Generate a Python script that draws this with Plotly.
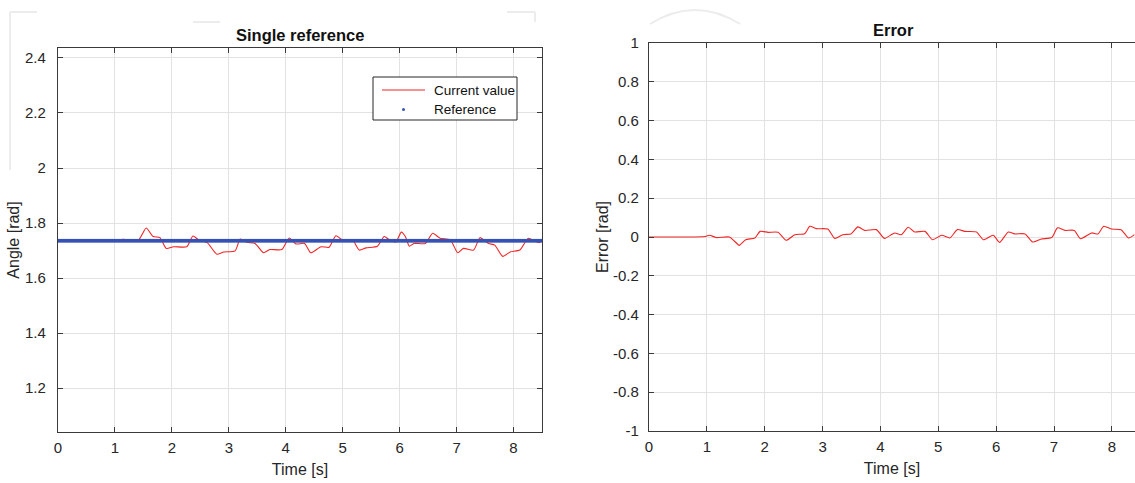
import numpy as np
import plotly.graph_objects as go

# ---- data ----
t_cur = [0.0, 0.5, 1.0, 1.14, 1.41, 1.55, 1.67, 1.79, 1.90, 2.03, 2.26, 2.37, 2.47, 2.62, 2.79, 2.91,
         3.11, 3.20, 3.32, 3.46, 3.61, 3.72, 3.93, 4.06, 4.18, 4.33, 4.44, 4.62, 4.76, 4.88, 5.03,
         5.17, 5.29, 5.41, 5.61, 5.73, 5.81, 5.93, 6.03, 6.10, 6.17, 6.25, 6.45, 6.58, 6.71, 6.89,
         7.02, 7.12, 7.30, 7.41, 7.56, 7.67, 7.81, 7.94, 8.11, 8.26, 8.38, 8.47]
v_cur = [1.736, 1.736, 1.736, 1.741, 1.738, 1.782, 1.751, 1.747, 1.708, 1.714, 1.714, 1.753, 1.739,
         1.729, 1.687, 1.695, 1.699, 1.742, 1.730, 1.726, 1.692, 1.704, 1.704, 1.746, 1.724, 1.726,
         1.692, 1.714, 1.712, 1.754, 1.733, 1.739, 1.702, 1.710, 1.716, 1.751, 1.741, 1.731, 1.767,
         1.751, 1.716, 1.726, 1.726, 1.763, 1.745, 1.739, 1.692, 1.708, 1.702, 1.747, 1.726, 1.720,
         1.679, 1.695, 1.702, 1.745, 1.733, 1.729]

ref_value = 1.736
t_ref = np.linspace(0, 8.5, 243)

t_err = [0.0, 0.5, 0.97, 1.05, 1.16, 1.39, 1.48, 1.56, 1.67, 1.83, 1.92, 2.06, 2.23, 2.37, 2.52, 2.69,
         2.78, 2.89, 3.09, 3.21, 3.35, 3.49, 3.61, 3.73, 3.93, 4.07, 4.20, 4.25, 4.36, 4.48, 4.59,
         4.77, 4.90, 5.06, 5.20, 5.33, 5.46, 5.66, 5.78, 5.95, 6.06, 6.21, 6.32, 6.50, 6.63, 6.78,
         6.96, 7.06, 7.19, 7.35, 7.46, 7.65, 7.76, 7.86, 7.99, 8.16, 8.29, 8.39]
v_err = [0.0, 0.0, 0.003, 0.009, -0.003, 0.0, -0.022, -0.043, -0.014, -0.005, 0.029, 0.024, 0.024,
         -0.017, 0.012, 0.017, 0.055, 0.043, 0.041, -0.007, 0.012, 0.016, 0.052, 0.034, 0.038, -0.007,
         0.014, 0.021, 0.012, 0.050, 0.026, 0.029, -0.014, 0.009, -0.005, 0.038, 0.029, 0.026, -0.014,
         0.009, -0.028, 0.026, 0.016, 0.016, -0.026, -0.010, -0.003, 0.047, 0.034, 0.034, -0.009,
         0.021, 0.016, 0.055, 0.041, 0.038, -0.005, 0.012]

x_ticks = [0, 1, 2, 3, 4, 5, 6, 7, 8]
y1_ticks = [1.2, 1.4, 1.6, 1.8, 2.0, 2.2, 2.4]
y1_labels = ["1.2", "1.4", "1.6", "1.8", "2", "2.2", "2.4"]
y2_ticks = [-1, -0.8, -0.6, -0.4, -0.2, 0, 0.2, 0.4, 0.6, 0.8, 1]
y2_labels = ["-1", "-0.8", "-0.6", "-0.4", "-0.2", "0", "0.2", "0.4", "0.6", "0.8", "1"]
legend_labels = ["Current value", "Reference"]

W, H = 1135, 483
FONT = "Liberation Sans, Arial, Helvetica, sans-serif"
RED = "#f22424"
BLUE = "#3552b4"
AX = "#3a3a3a"
GRID = "#e2e2e2"
TXT = "#262626"

fig = go.Figure()
fig.add_trace(go.Scatter(x=t_cur, y=v_cur, mode="lines", name=legend_labels[0], showlegend=False,
                         line=dict(color=RED, width=1.1, shape="spline", smoothing=0.6),
                         xaxis="x", yaxis="y"))
fig.add_trace(go.Scatter(x=t_ref, y=[ref_value] * len(t_ref), mode="markers", name=legend_labels[1],
                         showlegend=False,
                         marker=dict(color=BLUE, size=4, line=dict(width=0)),
                         xaxis="x", yaxis="y"))
fig.add_trace(go.Scatter(x=t_err, y=v_err, mode="lines", showlegend=False,
                         line=dict(color=RED, width=1.1, shape="spline", smoothing=0.6),
                         xaxis="x2", yaxis="y2"))

def px_x(p):
    return p / W

def px_y(p):
    return 1 - p / H

axis_common = dict(showline=True, linecolor=AX, linewidth=1.3, ticks="inside", ticklen=5,
                   tickcolor=AX, tickwidth=1, showgrid=True, gridcolor=GRID, gridwidth=1,
                   zeroline=False, automargin=False,
                   tickfont=dict(family=FONT, size=15, color=TXT))

fig.update_layout(
    template="none",
    width=W, height=H, margin=dict(l=0, r=0, t=0, b=0, pad=0),
    paper_bgcolor="white", plot_bgcolor="white",
    font=dict(family=FONT, color=TXT),
    showlegend=False,
    xaxis=dict(domain=[px_x(58), px_x(542)], range=[0, 8.5], tickvals=x_ticks,
               mirror="ticks", anchor="y", ticklabelstandoff=2,
               title=dict(text="Time [s]", font=dict(family=FONT, size=16), standoff=8),
               **axis_common),
    yaxis=dict(domain=[px_y(432), px_y(48)], range=[1.041, 2.436], tickvals=y1_ticks,
               ticktext=y1_labels, mirror="ticks", anchor="x", ticklabelstandoff=8,
               title=dict(text="Angle [rad]", font=dict(family=FONT, size=16), standoff=1),
               **axis_common),
    xaxis2=dict(domain=[px_x(649), 1.0], range=[0, 8.4], tickvals=x_ticks,
                mirror="ticks", anchor="y2", ticklabelstandoff=2,
                title=dict(text="Time [s]", font=dict(family=FONT, size=16), standoff=8),
                **axis_common),
    yaxis2=dict(domain=[px_y(431), px_y(43)], range=[-1, 1], tickvals=y2_ticks,
                ticktext=y2_labels, mirror=False, anchor="x2", ticklabelstandoff=6,
                title=dict(text="Error [rad]", font=dict(family=FONT, size=16), standoff=0),
                **axis_common),
)

fig.add_annotation(text="<b>Single reference</b>", x=px_x(300), y=px_y(35), xref="paper", yref="paper",
                   xanchor="center", yanchor="middle",
                   showarrow=False, font=dict(family=FONT, size=16.5, color="#111111"))
fig.add_annotation(text="<b>Error</b>", x=px_x(893), y=px_y(30), xref="paper", yref="paper",
                   xanchor="center", yanchor="middle",
                   showarrow=False, font=dict(family=FONT, size=16.5, color="#111111"))

# ---- legend drawn as a box inside the left axes ----
fig.add_shape(type="rect", xref="paper", yref="paper", x0=px_x(373), y0=px_y(120),
              x1=px_x(517), y1=px_y(77), line=dict(color=TXT, width=1), fillcolor="white")
fig.add_shape(type="line", xref="paper", yref="paper", x0=px_x(382), y0=px_y(90),
              x1=px_x(425), y1=px_y(90), line=dict(color=RED, width=1.1))
fig.add_shape(type="circle", xref="paper", yref="paper", x0=px_x(402), y0=px_y(111),
              x1=px_x(405), y1=px_y(108), line=dict(color=BLUE, width=0), fillcolor=BLUE)
fig.add_annotation(text=legend_labels[0], x=px_x(432), y=px_y(90), xref="paper", yref="paper",
                   xanchor="left", yanchor="middle", showarrow=False,
                   font=dict(family=FONT, size=13.5, color="#111111"))
fig.add_annotation(text=legend_labels[1], x=px_x(432), y=px_y(109), xref="paper", yref="paper",
                   xanchor="left", yanchor="middle", showarrow=False,
                   font=dict(family=FONT, size=13.5, color="#111111"))

# faint background artefacts visible at the top of the reference
faint = dict(color="#ececec", width=2)

def seg(x0, y0, x1, y1):
    fig.add_shape(type="line", xref="paper", yref="paper", x0=px_x(x0), y0=px_y(y0),
                  x1=px_x(x1), y1=px_y(y1), line=faint, layer="below")

seg(10, 12, 10, 170)
seg(10, 12, 37, 12)
seg(507, 12, 535, 12)
seg(535, 12, 535, 22)
seg(193, 22, 220, 22)
fig.add_shape(type="path", xref="paper", yref="paper",
              path=f"M {px_x(650)} {px_y(24)} Q {px_x(695)} {px_y(-4)} {px_x(740)} {px_y(24)}",
              line=faint, layer="below")

fig.write_html("out.html")
